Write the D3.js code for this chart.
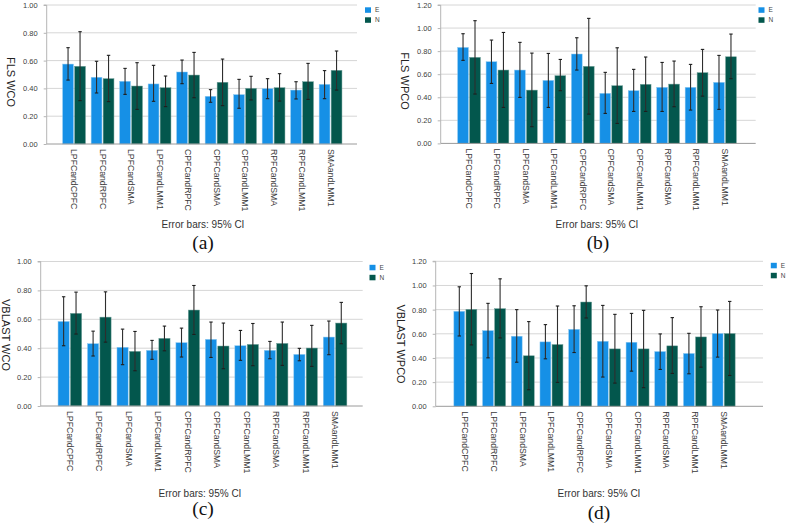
<!DOCTYPE html>
<html>
<head>
<meta charset="utf-8">
<script src="https://cdn.jsdelivr.net/npm/d3@7"></script>
<style>
  html, body { margin: 0; padding: 0; background: #ffffff; }
  svg { display: block; }
</style>
</head>
<body>
<svg id="chart" width="788" height="524"></svg>
<script>
// ---------------- DATA ----------------
const categories = ["LPFCandCPFC","LPFCandRPFC","LPFCandSMA","LPFCandLMM1","CPFCandRPFC",
                    "CPFCandSMA","CPFCandLMM1","RPFCandSMA","RPFCandLMM1","SMAandLMM1"];
const seriesNames = ["E", "N"];

// (a) FLS WCO
const flsWcoE     = [0.575, 0.480, 0.451, 0.432, 0.518, 0.343, 0.355, 0.398, 0.388, 0.429];
const flsWcoELow  = [0.460, 0.367, 0.357, 0.307, 0.434, 0.300, 0.257, 0.326, 0.324, 0.326];
const flsWcoEHigh = [0.693, 0.595, 0.544, 0.566, 0.604, 0.391, 0.465, 0.470, 0.448, 0.528];
const flsWcoN     = [0.559, 0.470, 0.417, 0.405, 0.496, 0.444, 0.400, 0.405, 0.448, 0.530];
const flsWcoNLow  = [0.312, 0.305, 0.249, 0.269, 0.333, 0.276, 0.317, 0.309, 0.321, 0.388];
const flsWcoNHigh = [0.808, 0.638, 0.585, 0.489, 0.659, 0.611, 0.487, 0.506, 0.580, 0.669];

// (b) FLS WPCO
const flsWpcoE     = [0.832, 0.708, 0.636, 0.546, 0.775, 0.434, 0.457, 0.486, 0.486, 0.529];
const flsWpcoELow  = [0.720, 0.520, 0.399, 0.312, 0.636, 0.260, 0.277, 0.277, 0.289, 0.295];
const flsWpcoEHigh = [0.951, 0.896, 0.876, 0.780, 0.916, 0.616, 0.642, 0.702, 0.685, 0.763];
const flsWpcoN     = [0.746, 0.636, 0.462, 0.587, 0.668, 0.500, 0.512, 0.514, 0.613, 0.751];
const flsWpcoNLow  = [0.428, 0.312, 0.145, 0.457, 0.254, 0.173, 0.277, 0.318, 0.410, 0.561];
const flsWpcoNHigh = [1.064, 0.962, 0.783, 0.728, 1.084, 0.829, 0.749, 0.714, 0.815, 0.948];

// (c) VBLAST WCO
const vbWcoE     = [0.585, 0.431, 0.406, 0.385, 0.438, 0.461, 0.417, 0.385, 0.357, 0.477];
const vbWcoELow  = [0.417, 0.346, 0.286, 0.323, 0.339, 0.336, 0.316, 0.327, 0.313, 0.355];
const vbWcoEHigh = [0.756, 0.518, 0.532, 0.454, 0.539, 0.581, 0.523, 0.447, 0.399, 0.588];
const vbWcoN     = [0.641, 0.615, 0.378, 0.468, 0.664, 0.415, 0.426, 0.433, 0.401, 0.574];
const vbWcoNLow  = [0.498, 0.442, 0.244, 0.382, 0.495, 0.258, 0.279, 0.281, 0.274, 0.431];
const vbWcoNHigh = [0.788, 0.790, 0.516, 0.553, 0.834, 0.574, 0.571, 0.581, 0.558, 0.717];

// (d) VBLAST WPCO
const vbWpcoE     = [0.786, 0.626, 0.580, 0.533, 0.637, 0.538, 0.530, 0.453, 0.437, 0.602];
const vbWpcoELow  = [0.582, 0.401, 0.365, 0.393, 0.445, 0.242, 0.291, 0.305, 0.269, 0.407];
const vbWpcoEHigh = [0.989, 0.852, 0.800, 0.676, 0.832, 0.835, 0.769, 0.599, 0.604, 0.797];
const vbWpcoN     = [0.802, 0.808, 0.418, 0.511, 0.863, 0.475, 0.475, 0.500, 0.574, 0.602];
const vbWpcoNLow  = [0.508, 0.566, 0.137, 0.198, 0.731, 0.192, 0.154, 0.272, 0.324, 0.255];
const vbWpcoNHigh = [1.099, 1.055, 0.701, 0.830, 0.997, 0.761, 0.794, 0.734, 0.824, 0.868];

const ticksA = [0, 0.2, 0.4, 0.6, 0.8, 1.0];
const ticksB = [0, 0.2, 0.4, 0.6, 0.8, 1.0, 1.2];

const yTitles = ["FLS WCO", "FLS WPCO", "VBLAST WCO", "VBLAST WPCO"];
const panelTags = ["(a)", "(b)", "(c)", "(d)"];
const footNote = "Error bars: 95% CI";

// ---------------- LAYOUT ----------------
const colors = { E: "#1690e6", N: "#03574d" };
const sans = "'Liberation Sans', Arial, sans-serif";
const serif = "'Liberation Serif', 'Times New Roman', serif";

const panels = [
  { ox: 0,   oy: 0,   axisX: 46.7, right: 357,   y0: 144,  yTop: 5,    max: 1.0, ticks: ticksA,
    bL: 59.8, bR: 344.8, yLabX: 11, yLabY: 82, foot: [203, 228], tag: [203, 249],
    leg: [365, 7.3],
    E: flsWcoE, EL: flsWcoELow, EH: flsWcoEHigh, N: flsWcoN, NL: flsWcoNLow, NH: flsWcoNHigh },
  { ox: 394, oy: 0,   axisX: 46.7, right: 361.7, y0: 143.4, yTop: 5,   max: 1.2, ticks: ticksB,
    bL: 60.8, bR: 345.2, yLabX: 11, yLabY: 81, foot: [203, 228], tag: [204, 249],
    leg: [364.5, 7.3],
    E: flsWpcoE, EL: flsWpcoELow, EH: flsWpcoEHigh, N: flsWpcoN, NL: flsWpcoNLow, NH: flsWpcoNHigh },
  { ox: 0,   oy: 262, axisX: 40.7, right: 362.7, y0: 144,  yTop: -0.5, max: 1.0, ticks: ticksA,
    bL: 55.1, bR: 349.8, yLabX: 6, yLabY: 73, foot: [200, 235], tag: [203, 253],
    leg: [369.5, 2.8],
    E: vbWcoE, EL: vbWcoELow, EH: vbWcoEHigh, N: vbWcoN, NL: vbWcoNLow, NH: vbWcoNHigh },
  { ox: 394, oy: 262, axisX: 41.7, right: 369,   y0: 144.3, yTop: -0.7, max: 1.2, ticks: ticksB,
    bL: 57, bR: 344, yLabX: 7, yLabY: 82, foot: [205, 235], tag: [205, 257],
    leg: [376.8, 0.8],
    E: vbWpcoE, EL: vbWpcoELow, EH: vbWpcoEHigh, N: vbWpcoN, NL: vbWpcoNLow, NH: vbWpcoNHigh }
];

const svg = d3.select("#chart");

panels.forEach((p, i) => {
  const g = svg.append("g").attr("transform", `translate(${p.ox},${p.oy})`);

  const y = d3.scaleLinear().domain([0, p.max]).range([p.y0, p.yTop]);
  const x0 = d3.scaleBand().domain(categories).range([p.bL, p.bR]).paddingInner(0).paddingOuter(0);
  const groupW = x0.bandwidth() * 0.8;
  const x1 = d3.scaleBand().domain(seriesNames)
      .range([(x0.bandwidth() - groupW) / 2, (x0.bandwidth() + groupW) / 2])
      .paddingInner(0.1).paddingOuter(0);

  // gridlines
  g.append("g").selectAll("line").data(p.ticks.filter(t => t > 0)).join("line")
    .attr("x1", p.axisX).attr("x2", p.right)
    .attr("y1", d => y(d)).attr("y2", d => y(d))
    .attr("stroke", "#d6d6d6").attr("stroke-width", 1);

  // y axis
  const yAxis = d3.axisLeft(y).tickValues(p.ticks).tickFormat(d3.format(".2f")).tickSize(3).tickPadding(6);
  const ya = g.append("g").attr("transform", `translate(${p.axisX},0)`).call(yAxis);
  ya.select(".domain").attr("stroke", "#b5b5b5").attr("d", `M-3,${y(p.max)}H0V${p.y0}`);
  ya.selectAll(".tick line").attr("stroke", "#b5b5b5");
  ya.selectAll(".tick text").attr("fill", "#404040").style("font-family", sans).style("font-size", "7.5px");

  // bars
  const rows = categories.map((c, k) => ({
    c,
    vals: [
      { s: "E", v: p.E[k], lo: p.EL[k], hi: p.EH[k] },
      { s: "N", v: p.N[k], lo: p.NL[k], hi: p.NH[k] }
    ]
  }));
  const grp = g.append("g").selectAll("g").data(rows).join("g")
    .attr("transform", d => `translate(${x0(d.c)},0)`);
  grp.selectAll("rect").data(d => d.vals).join("rect")
    .attr("x", d => x1(d.s)).attr("width", x1.bandwidth())
    .attr("y", d => y(d.v)).attr("height", d => y(0) - y(d.v))
    .attr("fill", d => colors[d.s])
    .attr("stroke", d => d.s === "E" ? "#8cc8f0" : "#6f9e98").attr("stroke-width", 0.5);

  // error bars
  const eb = grp.selectAll("g.eb").data(d => d.vals).join("g").attr("class", "eb");
  const cx = d => x1(d.s) + x1.bandwidth() / 2;
  eb.append("line").attr("x1", cx).attr("x2", cx)
    .attr("y1", d => y(d.lo)).attr("y2", d => y(d.hi))
    .attr("stroke", "#2e2e2e").attr("stroke-width", 1.1);
  eb.append("line").attr("x1", d => cx(d) - 1.7).attr("x2", d => cx(d) + 1.7)
    .attr("y1", d => y(d.hi)).attr("y2", d => y(d.hi))
    .attr("stroke", "#1e1e1e").attr("stroke-width", 1.1);
  eb.append("line").attr("x1", d => cx(d) - 1.7).attr("x2", d => cx(d) + 1.7)
    .attr("y1", d => y(d.lo)).attr("y2", d => y(d.lo))
    .attr("stroke", "#1e1e1e").attr("stroke-width", 1.1);

  // x baseline
  g.append("line").attr("x1", p.axisX).attr("x2", p.right)
    .attr("y1", y(0)).attr("y2", y(0)).attr("stroke", "#9a9a9a").attr("stroke-width", 1);

  // category labels (rotated)
  g.append("g").selectAll("text").data(categories).join("text")
    .attr("transform", d => `translate(${x0(d) + x0.bandwidth() / 2},${p.y0 + 5}) rotate(90)`)
    .attr("text-anchor", "start").attr("dy", "0.35em")
    .attr("fill", "#3a3a3a").style("font-family", sans).style("font-size", "8.7px")
    .text(d => d);

  // y title
  g.append("text")
    .attr("transform", `translate(${p.yLabX},${p.yLabY}) rotate(90)`)
    .attr("text-anchor", "middle").attr("dy", "0.35em")
    .attr("fill", "#222").style("font-family", sans).style("font-size", "11px")
    .text(yTitles[i]);

  // footnote
  g.append("text").attr("x", p.foot[0]).attr("y", p.foot[1])
    .attr("text-anchor", "middle").attr("fill", "#333")
    .style("font-family", sans).style("font-size", "10px").text(footNote);

  // panel tag
  g.append("text").attr("x", p.tag[0]).attr("y", p.tag[1])
    .attr("text-anchor", "middle").attr("fill", "#111")
    .style("font-family", serif).style("font-size", "19.5px").text(panelTags[i]);

  // legend
  const lg = g.append("g").attr("transform", `translate(${p.leg[0]},${p.leg[1]})`);
  seriesNames.forEach((s, k) => {
    lg.append("rect").attr("x", 0).attr("y", k * 10).attr("width", 6).attr("height", 5.5).attr("fill", colors[s]);
    lg.append("text").attr("x", 10).attr("y", k * 10 + 2.8).attr("dy", "0.35em")
      .attr("fill", "#444").style("font-family", sans).style("font-size", "6.5px").text(s);
  });
});
</script>
</body>
</html>
